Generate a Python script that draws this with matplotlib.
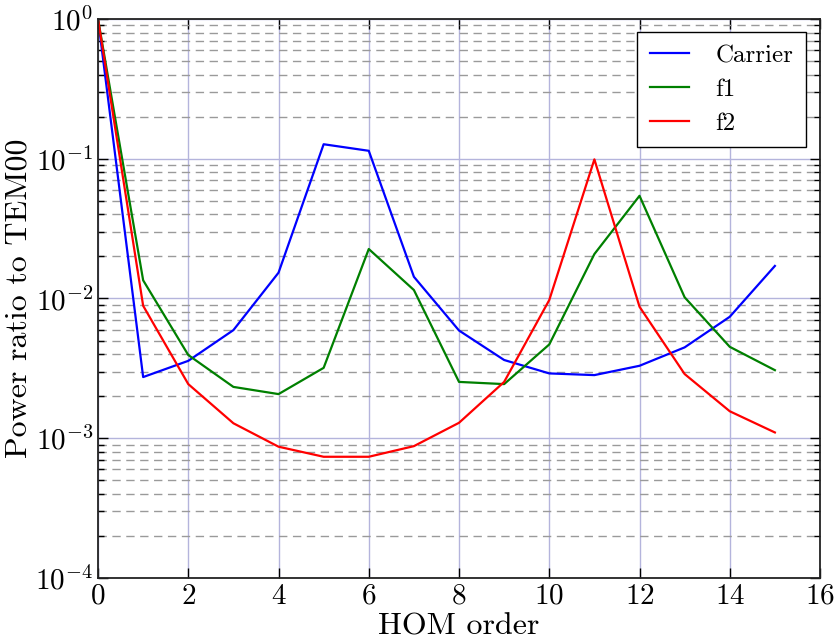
import matplotlib
matplotlib.use("Agg")
import matplotlib.pyplot as plt
from matplotlib.ticker import LogLocator, NullFormatter, MultipleLocator

plt.rcParams['font.family'] = ['cmr10', 'DejaVu Serif']
plt.rcParams['mathtext.fontset'] = 'cm'
plt.rcParams['axes.formatter.use_mathtext'] = True
plt.rcParams['axes.unicode_minus'] = False

hom_order = list(range(16))
carrier = [1.0, 0.00274, 0.00358, 0.00594, 0.0153, 0.127, 0.114, 0.0143,
           0.0059, 0.00363, 0.00291, 0.00283, 0.0033, 0.00447, 0.0074, 0.0171]
f1 = [1.0, 0.0135, 0.00394, 0.00233, 0.00207, 0.00319, 0.0226, 0.0115,
      0.00253, 0.00244, 0.00469, 0.0208, 0.0543, 0.0102, 0.00451, 0.00307]
f2 = [1.0, 0.00887, 0.00244, 0.00128, 0.00087, 0.000737, 0.000737, 0.000878,
      0.00129, 0.00253, 0.00975, 0.099, 0.00873, 0.00288, 0.00156, 0.0011]

fig = plt.figure(figsize=(8.4, 6.42), dpi=100)
ax = fig.add_axes([0.1167, 0.0997, 0.8595, 0.8707])

ax.plot(hom_order, carrier, color='b', lw=1.6, label='Carrier')
ax.plot(hom_order, f1, color='g', lw=1.6, label='f1')
ax.plot(hom_order, f2, color='r', lw=1.6, label='f2')

ax.set_yscale('log')
ax.set_xlim(0, 16)
ax.set_ylim(1e-4, 1)
ax.xaxis.set_major_locator(MultipleLocator(2))
ax.yaxis.set_major_locator(LogLocator(base=10, numticks=10))
ax.yaxis.set_minor_locator(LogLocator(base=10, subs=range(2, 10), numticks=20))
ax.yaxis.set_minor_formatter(NullFormatter())

ax.grid(True, which='major', axis='both', color='#b4b4dc', linestyle='-', lw=1.0)
ax.grid(True, which='minor', axis='y', color='#9a9a9a', linestyle=(0, (6, 4)), lw=1.0)
ax.set_axisbelow(True)

ax.tick_params(which='both', direction='in', top=True, right=True, labelsize=21)
ax.tick_params(which='major', length=7, width=1)
ax.tick_params(which='minor', length=4, width=1)
ax.tick_params(axis='x', pad=4)
for s in ax.spines.values():
    s.set_linewidth(1.3)
    s.set_color('#222222')

ax.set_xlabel('HOM order', fontsize=23, labelpad=2)
ax.set_ylabel('Power ratio to TEM00', fontsize=23, labelpad=2)

leg = ax.legend(loc='upper right', fontsize=18, fancybox=False, framealpha=1,
                edgecolor='black', handlelength=1.56, handletextpad=1.08,
                borderpad=0.5, labelspacing=0.45, borderaxespad=0,
                bbox_to_anchor=(0.9806, 0.9767))
leg.get_frame().set_linewidth(1.0)

fig.savefig('out.png', dpi=100)
